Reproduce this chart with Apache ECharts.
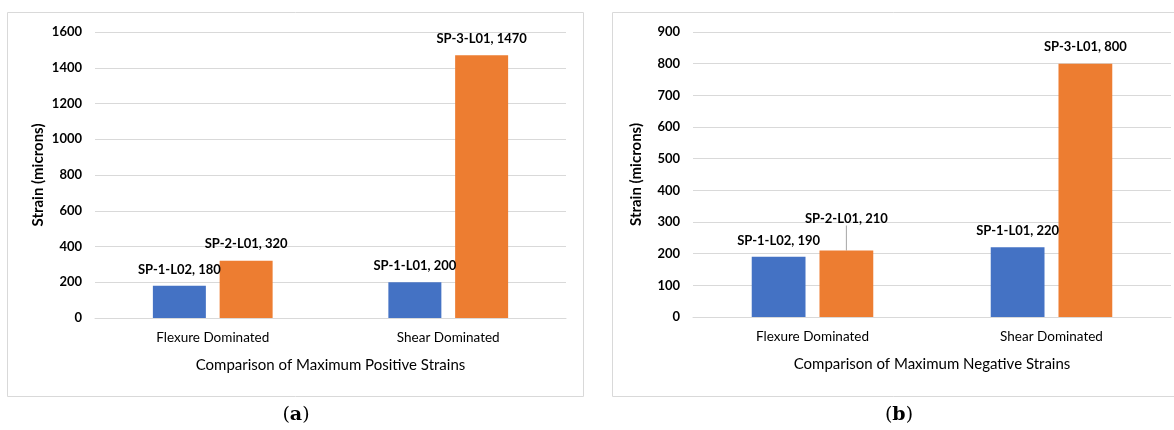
<!DOCTYPE html>
<html>
<head>
<meta charset="utf-8">
<script src="https://cdn.jsdelivr.net/npm/echarts@6/dist/echarts.min.js"></script>
<style>
  html, body { margin: 0; padding: 0; background: #fff; }
  #main { width: 1174px; height: 430px; }
</style>
</head>
<body>
<div id="main"></div>
<script>
// categories
var categories = ['Flexure Dominated', 'Shear Dominated'];

// panel (a) positive strains
var posBlue = [180, 200];
var posOrange = [320, 1470];
var posBlueNames = ['SP-1-L02', 'SP-1-L01'];
var posOrangeNames = ['SP-2-L01', 'SP-3-L01'];

// panel (b) negative strains
var negBlue = [190, 220];
var negOrange = [210, 800];
var negBlueNames = ['SP-1-L02', 'SP-1-L01'];
var negOrangeNames = ['SP-2-L01', 'SP-3-L01'];

var FONT = 'Lato, "Open Sans", sans-serif';
var BLUE = '#4472C4', ORANGE = '#ED7D31', GRID = '#d9d9d9';

var chart = echarts.init(document.getElementById('main'));

function lbl(names) {
  return {
    show: true,
    position: 'top',
    distance: 10,
    fontFamily: FONT,
    fontWeight: 'bold',
    fontSize: 13,
    color: '#000',
    formatter: function (p) { return names[p.dataIndex] + ', ' + p.value; }
  };
}

function xAxis(gi, name) {
  return {
    type: 'category', gridIndex: gi, data: categories,
    axisLine: { show: true, lineStyle: { color: GRID } },
    axisTick: { show: false },
    axisLabel: { fontFamily: FONT, fontSize: 13.5, color: '#000', margin: 13 },
    name: name, nameLocation: 'middle', nameGap: 40,
    nameTextStyle: { fontFamily: FONT, fontSize: 15, color: '#000' }
  };
}

function yAxis(gi, max, interval) {
  return {
    type: 'value', gridIndex: gi, min: 0, max: max, interval: interval,
    axisLine: { show: false }, axisTick: { show: false },
    splitLine: { lineStyle: { color: GRID } },
    axisLabel: { fontFamily: FONT, fontSize: 13, fontWeight: 'bold', color: '#000', margin: 13,
      formatter: function (v) { return String(v); } },
    name: 'Strain (microns)', nameLocation: 'middle', nameGap: 49, nameRotate: 90,
    nameTextStyle: { fontFamily: FONT, fontSize: 15, fontWeight: 'bold', color: '#000' }
  };
}

function bar(gi, data, color, names, layout) {
  var s = {
    type: 'bar', xAxisIndex: gi, yAxisIndex: gi, data: data,
    barWidth: '22.5%', barGap: '26%',
    itemStyle: { color: color },
    label: lbl(names)
  };
  if (layout) s.labelLayout = layout;
  return s;
}

// first orange bar in (b) has its label pulled up with a leader line
var negOrangeData = negOrange.map(function (v, i) {
  return i === 0
    ? { value: v, labelLine: { show: true, lineStyle: { color: '#a6a6a6', width: 1 } } }
    : { value: v, labelLine: { show: false } };
});

var option = {
  animation: false,
  grid: [
    { left: 95, right: 1174 - 566, top: 32, bottom: 430 - 318 },
    { left: 693, right: 3, top: 32, bottom: 430 - 317 }
  ],
  xAxis: [
    xAxis(0, 'Comparison of Maximum Positive Strains'),
    xAxis(1, 'Comparison of Maximum Negative Strains')
  ],
  yAxis: [yAxis(0, 1600, 200), yAxis(1, 900, 100)],
  series: [
    bar(0, posBlue, BLUE, posBlueNames),
    bar(0, posOrange, ORANGE, posOrangeNames),
    bar(1, negBlue, BLUE, negBlueNames),
    bar(1, negOrangeData, ORANGE, negOrangeNames, function (p) {
      return p.dataIndex === 0 ? { dy: -15 } : {};
    })
  ],
  graphic: [
    { type: 'rect', shape: { x: 7.5, y: 12.5, width: 576, height: 384 },
      style: { fill: 'none', stroke: GRID, lineWidth: 1 }, silent: true },
    { type: 'rect', shape: { x: 612.5, y: 12.5, width: 570, height: 384 },
      style: { fill: 'none', stroke: GRID, lineWidth: 1 }, silent: true },
    { type: 'text', x: 296, y: 415,
      style: { text: '({b|a})', fill: '#000', font: '19px "DejaVu Serif", serif',
        align: 'center', verticalAlign: 'middle',
        rich: { b: { fontWeight: 'bold', fontSize: 19, fontFamily: '"DejaVu Serif", serif' } } } },
    { type: 'text', x: 899, y: 415,
      style: { text: '({b|b})', fill: '#000', font: '19px "DejaVu Serif", serif',
        align: 'center', verticalAlign: 'middle',
        rich: { b: { fontWeight: 'bold', fontSize: 19, fontFamily: '"DejaVu Serif", serif' } } } }
  ]
};

chart.setOption(option);
</script>
</body>
</html>
